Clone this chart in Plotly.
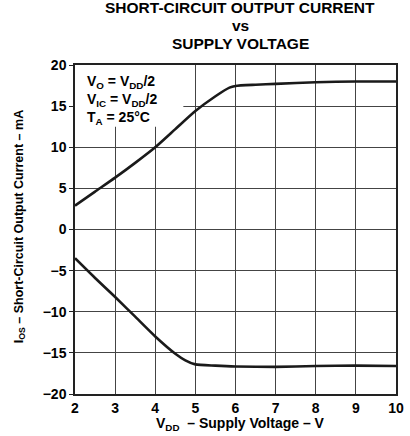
import plotly.graph_objects as go

# supply voltage (V) and short-circuit output current (mA)
vdd_src = [2, 2.5, 3, 3.5, 4, 4.5, 5, 5.5, 5.85, 6, 6.5, 7, 8, 9, 10]
ios_src = [2.9, 4.6, 6.3, 8.1, 10.0, 12.2, 14.4, 16.2, 17.25, 17.45, 17.6, 17.7, 17.9, 18.0, 18.0]

vdd_sink = [2, 2.5, 3, 3.5, 4, 4.5, 4.75, 5, 5.5, 6, 7, 8, 9, 10]
ios_sink = [-3.5, -5.9, -8.2, -10.6, -13.0, -15.1, -15.9, -16.4, -16.55, -16.65, -16.7, -16.6, -16.55, -16.6]

x_ticks = [2, 3, 4, 5, 6, 7, 8, 9, 10]
y_ticks = [-20, -15, -10, -5, 0, 5, 10, 15, 20]

title_lines = ["SHORT-CIRCUIT OUTPUT CURRENT", "vs", "SUPPLY VOLTAGE"]
title_y = [1.176, 1.119, 1.064]

FONT = "Liberation Sans"

fig = go.Figure()
for xs, ys in [(vdd_src, ios_src), (vdd_sink, ios_sink)]:
    fig.add_trace(go.Scatter(x=xs, y=ys, mode="lines",
                             line=dict(color="#1a1a1a", width=2.6, shape="spline", smoothing=0.6),
                             showlegend=False, hoverinfo="skip"))

# white box behind the conditions text (hides grid, not the curve)
fig.add_shape(type="rect", xref="x", yref="y", x0=2, x1=4.7, y0=12.5, y1=20,
              fillcolor="white", line=dict(width=0), layer="between")

fig.add_annotation(xref="x", yref="y", x=2.25, y=19.3, xanchor="left", yanchor="top",
                   align="left", showarrow=False,
                   text="V<sub>O</sub> = V<sub>DD</sub>/2<br>V<sub>IC</sub> = V<sub>DD</sub>/2<br>T<sub>A</sub> = 25°C",
                   font=dict(family=FONT, size=14, color="black", weight="bold"))

for txt, yy in zip(title_lines, title_y):
    fig.add_annotation(xref="paper", yref="paper", x=0.515, y=yy, xanchor="center",
                       yanchor="middle", showarrow=False, text=txt,
                       font=dict(family=FONT, size=15.5, color="black", weight="bold"))

# axis titles placed as annotations
fig.add_annotation(xref="paper", yref="paper", x=0.517, y=-0.091, xanchor="center",
                   yanchor="middle", showarrow=False,
                   text="V<sub>DD</sub>  – Supply Voltage – V",
                   font=dict(family=FONT, size=14, color="black", weight="bold"))
fig.add_annotation(xref="paper", yref="paper", x=-0.173, y=0.511, xanchor="center",
                   yanchor="middle", showarrow=False, textangle=-90,
                   text="I<sub>OS</sub> – Short-Circuit Output Current – mA",
                   font=dict(family=FONT, size=12.5, color="black", weight="bold"))

fig.update_layout(
    width=410, height=436,
    margin=dict(l=75, r=6, t=65, b=42),
    paper_bgcolor="white", plot_bgcolor="white",
    font=dict(family=FONT, color="black"),
)
fig.update_xaxes(range=[2, 10], tickvals=x_ticks, ticks="", showgrid=True,
                 gridcolor="#444444", gridwidth=1, showline=True, linecolor="#222222",
                 linewidth=1.5, mirror=True, zeroline=False,
                 tickfont=dict(family=FONT, size=14, color="black", weight="bold"))
fig.update_yaxes(range=[-20, 20], tickvals=y_ticks, ticks="outside", ticklen=4,
                 tickcolor="#222222", showgrid=True, gridcolor="#444444", gridwidth=1,
                 showline=True, linecolor="#222222", linewidth=1.5, mirror=True,
                 zeroline=False,
                 tickfont=dict(family=FONT, size=14, color="black", weight="bold"))

fig.write_html("out.html", config={"displayModeBar": False},
               post_script="document.body.style.margin='0';")
